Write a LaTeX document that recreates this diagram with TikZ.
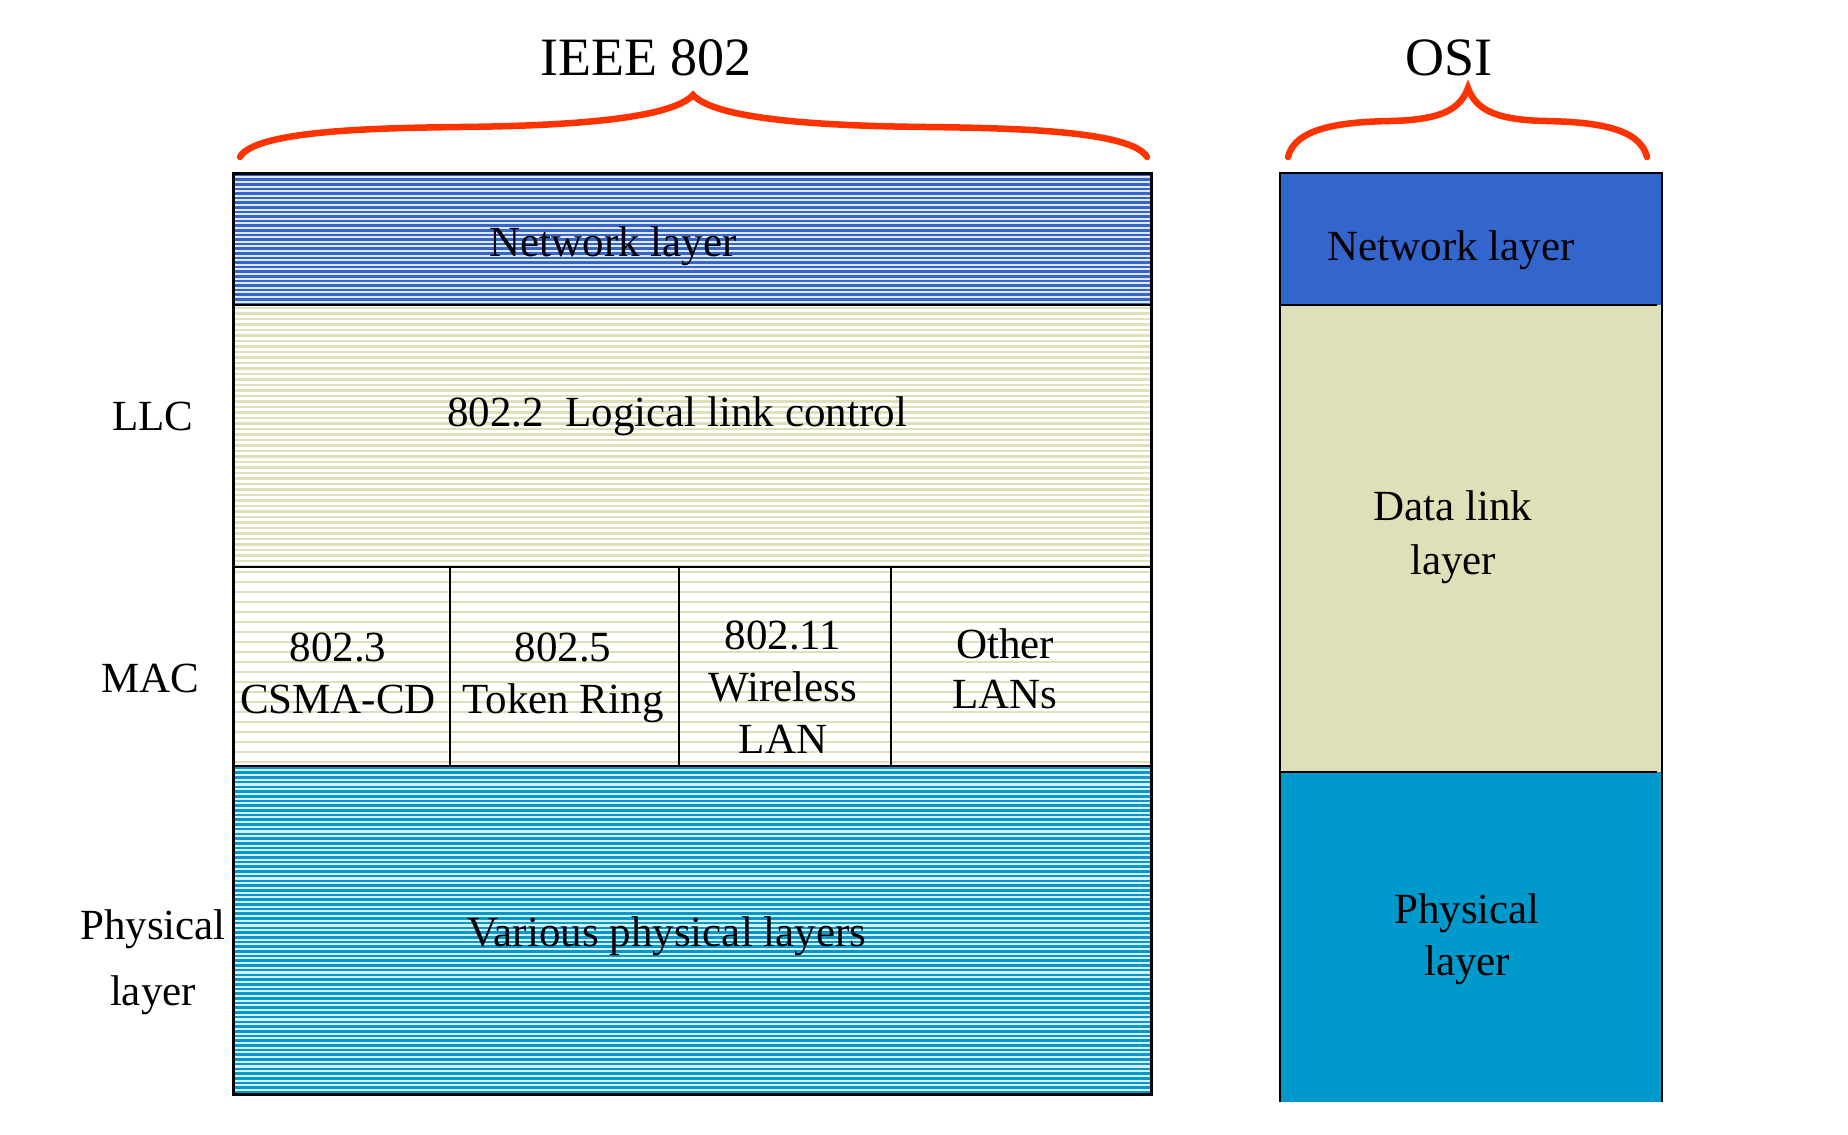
\documentclass[tikz,border=0pt]{standalone}
\usepackage{fontspec}
\setmainfont{Liberation Serif}
\definecolor{netblue}{HTML}{3366CC}
\definecolor{netlight}{HTML}{E2E8F5}
\definecolor{olivefill}{HTML}{E0E0B8}
\definecolor{phyblue}{HTML}{0099CC}
\definecolor{phylight}{HTML}{D6EEF7}
\definecolor{bracered}{HTML}{FF3300}
\begin{document}
\begin{tikzpicture}[x=1pt,y=-1pt,
  lbl/.style={font=\fontsize{43}{52}\selectfont, align=center, anchor=base, inner sep=0pt},
  ttl/.style={font=\fontsize{54}{60}\selectfont, anchor=base, inner sep=0pt},
  brace/.style={draw=bracered, line width=6.5pt, line cap=round},
  outline/.style={draw=black, line width=3pt},
  divider/.style={draw=black, line width=2.5pt}]
\useasboundingbox (0,0) rectangle (1848,1135);

% ---- IEEE 802 striped stack ----
\begin{scope}
\clip (233,173) rectangle (1151,305);
\fill[netlight] (233,173) rectangle (1151,305);
\foreach \k in {0,...,29} \draw[netblue, line width=2.6pt] (233,{175+4.6*\k}) -- (1151,{175+4.6*\k});
\end{scope}
\begin{scope}
\clip (233,305) rectangle (1151,567);
\fill[white] (233,305) rectangle (1151,567);
\foreach \k in {0,...,48} \draw[olivefill, line width=2.5pt] (233,{308+5.5*\k}) -- (1151,{308+5.5*\k});
\end{scope}
\begin{scope}
\clip (233,567) rectangle (1151,766);
\fill[white] (233,567) rectangle (1151,766);
\foreach \k in {0,...,20} \draw[olivefill, line width=2.5pt] (233,{572+10*\k}) -- (1151,{572+10*\k});
\end{scope}
\begin{scope}
\clip (233,766) rectangle (1151,1094);
\fill[phylight] (233,766) rectangle (1151,1094);
\foreach \k in {0,...,70} \draw[phyblue, line width=2.6pt] (233,{768+4.7*\k}) -- (1151,{768+4.7*\k});
\end{scope}
\draw[divider] (233,305) -- (1151,305);
\draw[divider] (233,567) -- (1151,567);
\draw[divider] (233,766) -- (1151,766);
\draw[divider] (450,567) -- (450,766);
\draw[divider] (679,567) -- (679,766);
\draw[divider] (891,567) -- (891,766);
\draw[outline] (233,173) rectangle (1151,1094);

% ---- OSI stack ----
\fill[netblue] (1280,173) rectangle (1662,305);
\fill[olivefill] (1280,305) rectangle (1662,772);
\fill[phyblue] (1280,772) rectangle (1662,1102);
\draw[divider] (1280,305) -- (1657,305);
\draw[divider] (1280,772) -- (1657,772);
\draw[draw=black, line width=2.2pt] (1280,1102) -- (1280,173) -- (1662,173) -- (1662,1102);

% ---- braces ----
\draw[brace] (240,157) .. controls (255,130) and (380,128) .. (460,127)
  .. controls (560,126) and (670,120) .. (693,95)
  .. controls (716,120) and (826,126) .. (926,127)
  .. controls (1006,128) and (1131,130) .. (1147,157);
\draw[brace] (1288,157) .. controls (1295,128) and (1340,122) .. (1390,121)
  .. controls (1440,120) and (1460,110) .. (1468,88)
  .. controls (1476,110) and (1496,120) .. (1546,121)
  .. controls (1596,122) and (1640,128) .. (1647,157);

% ---- texts (base anchor = baseline of last line) ----
\node[ttl] (ieee) at (646,75) {IEEE 802};
\node[ttl] (osi) at (1449,75) {OSI};
\node[lbl] (netL) at (613,256) {Network layer};
\node[lbl] (netR) at (1451,260) {Network layer};
\node[lbl] (llctext) at (677,426) {802.2\ \ Logical link control};
\node[lbl] (llc) at (153,430) {LLC};
\node[lbl] (mac) at (150,692) {MAC};
\node[lbl, font=\fontsize{43}{66}\selectfont] (phyL) at (153,1005) {Physical\\layer};
\node[lbl] (m3) at (338,713) {802.3\\CSMA-CD};
\node[lbl] (m5) at (563,713) {802.5\\Token Ring};
\node[lbl] (m11) at (783,753) {802.11\\Wireless\\LAN};
\node[lbl, font=\fontsize{43}{50}\selectfont] (mo) at (1005,708) {Other\\LANs};
\node[lbl] (var) at (667,946) {Various physical layers};
\node[lbl, font=\fontsize{43}{54}\selectfont] (dll) at (1453,574) {Data link\\layer};
\node[lbl] (phyR) at (1467,975) {Physical\\layer};
\end{tikzpicture}
\end{document}
